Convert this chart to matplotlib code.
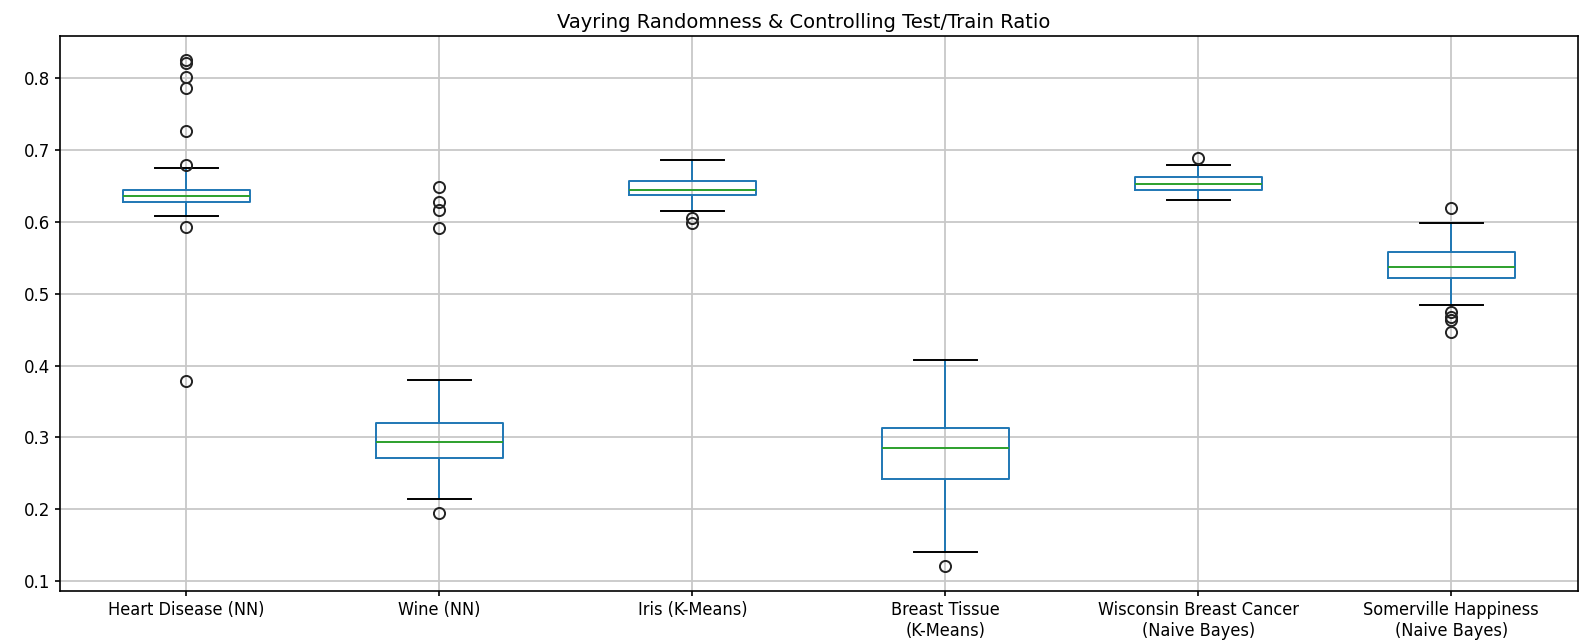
import matplotlib
matplotlib.use("Agg")
import matplotlib.pyplot as plt

# box statistics
labels = ["Heart Disease (NN)", "Wine (NN)", "Iris (K-Means)",
          "Breast Tissue\n(K-Means)", "Wisconsin Breast Cancer\n(Naive Bayes)",
          "Somerville Happiness\n(Naive Bayes)"]
whislo = [0.608, 0.214, 0.615, 0.140, 0.631, 0.484]
q1 = [0.627, 0.271, 0.638, 0.242, 0.645, 0.522]
med = [0.636, 0.294, 0.645, 0.285, 0.653, 0.537]
q3 = [0.645, 0.320, 0.657, 0.313, 0.662, 0.558]
whishi = [0.675, 0.380, 0.686, 0.408, 0.679, 0.598]
fliers = [
    [0.826, 0.821, 0.802, 0.786, 0.727, 0.679, 0.593, 0.378],
    [0.649, 0.627, 0.617, 0.591, 0.195],
    [0.605, 0.598],
    [0.121],
    [0.689],
    [0.619, 0.474, 0.468, 0.463, 0.446],
]

stats = []
for i in range(len(labels)):
    stats.append(dict(label=labels[i], whislo=whislo[i], q1=q1[i], med=med[i],
                      q3=q3[i], whishi=whishi[i], fliers=fliers[i]))

fig = plt.figure(figsize=(15.86, 6.41), dpi=100)
ax = fig.add_axes([0.0378, 0.078, 0.957, 0.866])

lw = 1.4
ax.bxp(stats, widths=0.5,
       boxprops=dict(color="#1f77b4", linewidth=lw),
       whiskerprops=dict(color="#1f77b4", linewidth=lw),
       medianprops=dict(color="#2ca02c", linewidth=lw),
       capprops=dict(color="k", linewidth=lw),
       flierprops=dict(marker="o", markersize=8, markeredgewidth=1.4,
                       markerfacecolor="none", markeredgecolor="#222222"))

ax.set_xlim(0.5, 6.5)
ax.set_ylim(0.086, 0.859)
ax.grid(True, color="#c8c8c8", linewidth=1.3)
ax.tick_params(axis="y", labelsize=12, width=1.2)
ax.tick_params(axis="x", width=1.2)
for t in ax.get_xticklabels():
    t.set_fontsize(13)
    t.set_fontstretch("condensed")
for s in ax.spines.values():
    s.set_linewidth(1.2)
ax.set_title("Vayring Randomness & Controlling Test/Train Ratio", fontsize=14, x=0.49)

plt.savefig("out.png", dpi=100)
